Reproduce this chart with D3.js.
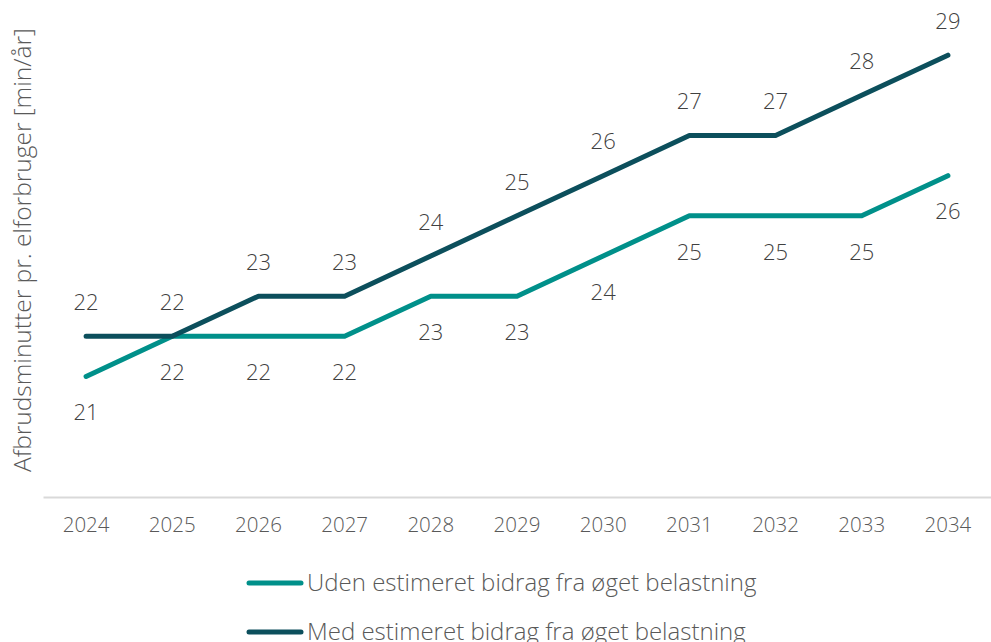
<!DOCTYPE html>
<html>
<head>
<meta charset="utf-8">
<script src="https://cdn.jsdelivr.net/npm/d3@7"></script>
<style>
  body { margin: 0; background: #fff; }
  text { font-family: "Open Sans", sans-serif; font-weight: 300; fill: #595959; }
</style>
</head>
<body>
<div id="chart"></div>
<script>
var width = 991,
    height = 642;

// data
var years = ["2024", "2025", "2026", "2027", "2028", "2029", "2030", "2031", "2032", "2033", "2034"];
var udenValues = [21, 22, 22, 22, 23, 23, 24, 25, 25, 25, 26];
var medValues = [22, 22, 23, 23, 24, 25, 26, 27, 27, 28, 29];
var seriesNames = ["Uden estimeret bidrag fra øget belastning", "Med estimeret bidrag fra øget belastning"];
var seriesColors = ["#00908a", "#0c4f5c"];
var yLabel = "Afbrudsminutter pr. elforbruger [min/år]";

var svg = d3.select("#chart")
    .append("svg")
    .attr("width", width)
    .attr("height", height);

var x = d3.scaleBand()
    .domain(years)
    .range([43, 991]);

var y = d3.scaleLinear()
    .domain([18, 30])
    .range([497, 15]);

// x axis
var xAxis = svg.append("g")
    .attr("transform", "translate(0," + y(18) + ")")
    .call(d3.axisBottom(x).tickSize(0).tickPadding(20));
xAxis.select(".domain").attr("stroke", "#d9d9d9").attr("stroke-width", 2);
xAxis.selectAll("text")
    .style("font-family", "'Open Sans', sans-serif")
    .style("font-weight", 300)
    .style("font-size", "20.5px")
    .attr("fill", "#595959");

// y title
svg.append("text")
    .attr("transform", "translate(31,250)rotate(-90)")
    .attr("text-anchor", "middle")
    .style("font-size", "24.5px")
    .text(yLabel);

var series = [udenValues, medValues];

var line = d3.line()
    .x(function (d, i) { return x(years[i]) + x.bandwidth() / 2; })
    .y(function (d) { return y(d); });

series.forEach(function (vals, s) {
    svg.append("path")
        .datum(vals)
        .attr("fill", "none")
        .attr("stroke", seriesColors[s])
        .attr("stroke-width", 5)
        .attr("stroke-linecap", "round")
        .attr("stroke-linejoin", "round")
        .attr("d", line);
});

// data labels: teal below, dark above
series.forEach(function (vals, s) {
    svg.append("g")
        .selectAll("text")
        .data(vals)
        .enter()
        .append("text")
        .attr("x", function (d, i) { return x(years[i]) + x.bandwidth() / 2; })
        .attr("y", function (d) { return y(d) + (s === 0 ? 36 : -34); })
        .attr("dy", "0.35em")
        .attr("text-anchor", "middle")
        .style("font-size", "22px")
        .style("fill", "#404040")
        .text(function (d) { return d; });
});

// legend
var legend = svg.append("g");
seriesNames.forEach(function (name, s) {
    var ly = 583 + s * 49;
    legend.append("line")
        .attr("x1", 249).attr("x2", 301)
        .attr("y1", ly).attr("y2", ly)
        .attr("stroke", seriesColors[s])
        .attr("stroke-width", 5)
        .attr("stroke-linecap", "round");
    legend.append("text")
        .attr("x", 307)
        .attr("y", ly)
        .attr("dy", "0.35em")
        .style("font-size", "24px")
        .text(name);
});
</script>
</body>
</html>
